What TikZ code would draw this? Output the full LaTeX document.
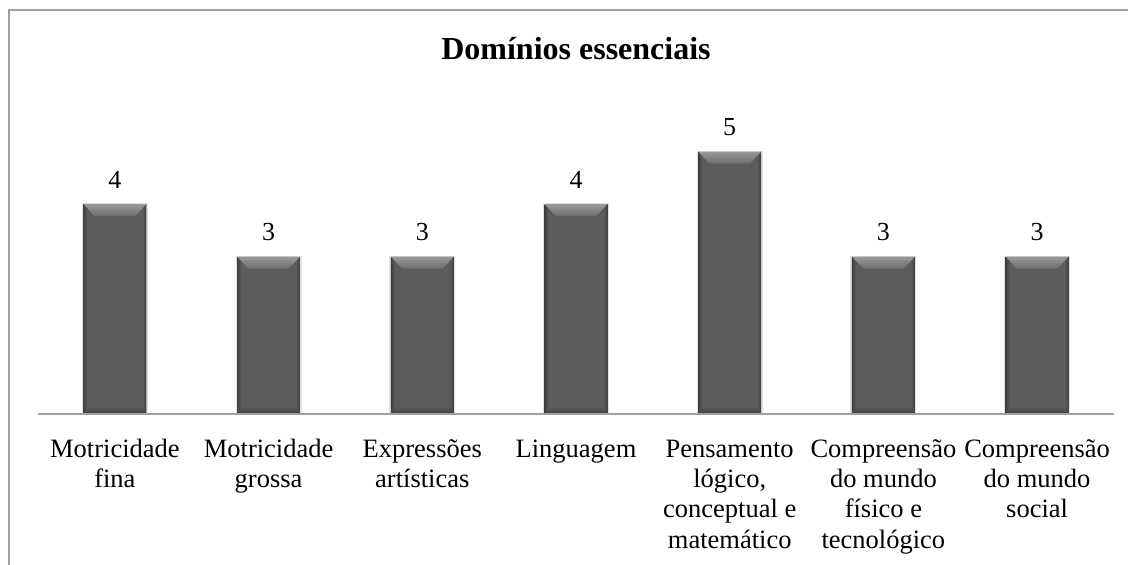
\documentclass[tikz,border=0pt]{standalone}
\usepackage{fontspec}
\setmainfont{Liberation Serif}
\usetikzlibrary{calc}
\definecolor{framegray}{HTML}{A0A0A0}
\definecolor{axisgray}{HTML}{A0A0A0}
\definecolor{barmain}{HTML}{5C5C5C}
\definecolor{bartop}{HTML}{9A9A9A}
\definecolor{barside}{HTML}{3E3E3E}
\definecolor{barbot}{HTML}{404040}
\tikzset{
  cat/.style={align=center, anchor=north, inner sep=0pt, font=\fontsize{26.5}{30.3}\selectfont},
  val/.style={anchor=base, inner sep=0pt, font=\fontsize{26}{30}\selectfont},
  ttl/.style={anchor=base, inner sep=0pt, font=\fontsize{32}{36}\selectfont\bfseries},
}
% bar macro: #1 = center x, #2 = value, #3 = name
\newcommand{\mybar}[3]{%
  \pgfmathsetmacro{\xa}{#1-31.5}%
  \pgfmathsetmacro{\xb}{#1+31.5}%
  \pgfmathsetmacro{\yt}{414-52.5*#2}%
  \fill[black!12] (\xa-1.5,\yt-1) rectangle (\xb+1.5,414);
  \fill[barmain] (\xa,\yt) rectangle (\xb,414);
  \shade[left color=barside, right color=barmain] (\xa,\yt) -- (\xa+4,\yt+4) -- (\xa+4,410) -- (\xa,414) -- cycle;
  \shade[left color=barmain, right color=barside] (\xb,\yt) -- (\xb-4,\yt+4) -- (\xb-4,410) -- (\xb,414) -- cycle;
  \shade[top color=barmain, bottom color=barbot] (\xa,414) -- (\xa+4,406) -- (\xb-4,406) -- (\xb,414) -- cycle;
  \shade[top color=bartop, bottom color=barmain!90!white] (\xa,\yt) -- (\xb,\yt) -- (\xb-11,\yt+12) -- (\xa+11,\yt+12) -- cycle;
  \node[val] (v#3) at (#1,\yt-16) {#2};
}
\begin{document}
\begin{tikzpicture}[x=1pt,y=-1pt]
\useasboundingbox (0,0) rectangle (1128,565);
\fill[white] (0,0) rectangle (1128,565);
% frame (cropped at right and bottom)
\coordinate (fbl) at (9,566);
\coordinate (ftl) at (9,10);
\coordinate (ftr) at (1129,10);
\draw[framegray, line width=2pt] (fbl) -- (ftl) -- (ftr);
% title
\node[ttl] (title) at (576,59) {Domínios essenciais};
% bars
\mybar{114.9}{4}{a}
\mybar{268.6}{3}{b}
\mybar{422.3}{3}{c}
\mybar{576.0}{4}{d}
\mybar{729.7}{5}{e}
\mybar{883.4}{3}{f}
\mybar{1037.1}{3}{g}
% axis
\coordinate (axl) at (38,414);
\coordinate (axr) at (1114,414);
\draw[axisgray, line width=1.6pt] (axl) -- (axr);
% categories (strut fixes first baseline at 457)
\node[cat] (ca) at (114.9,435.8) {\strut Motricidade\\fina};
\node[cat] (cb) at (268.6,435.8) {\strut Motricidade\\grossa};
\node[cat] (cc) at (422.3,435.8) {\strut Expressões\\artísticas};
\node[cat] (cd) at (576.0,435.8) {\strut Linguagem};
\node[cat] (ce) at (729.7,435.8) {\strut Pensamento\\lógico,\\conceptual e\\matemático};
\node[cat] (cf) at (883.4,435.8) {\strut Compreensão\\do mundo\\físico e\\tecnológico};
\node[cat] (cg) at (1037.1,435.8) {\strut Compreensão\\do mundo\\social};
\end{tikzpicture}
\end{document}
